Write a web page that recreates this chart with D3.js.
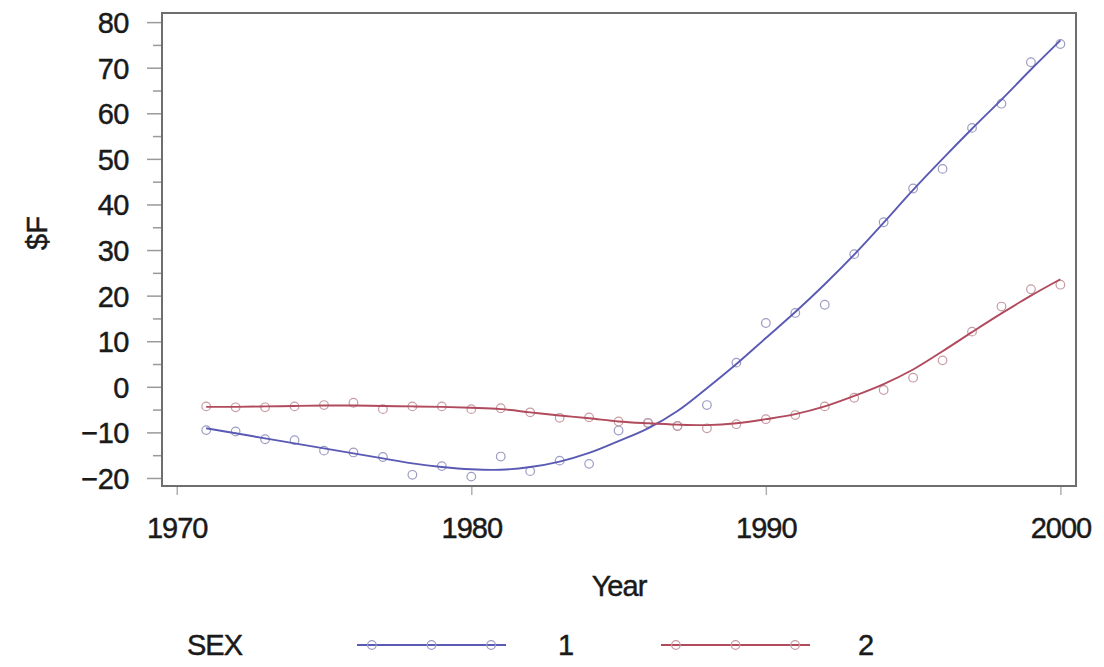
<!DOCTYPE html>
<html>
<head>
<meta charset="utf-8">
<script src="https://cdn.jsdelivr.net/npm/d3@7"></script>
<style>
  html, body { margin: 0; padding: 0; background: #fff; }
  svg { display: block; }
  text { font-family: "Liberation Sans", Arial, Helvetica, sans-serif; fill: #1a1a1a; stroke: #1a1a1a; stroke-width: 0.45px; }
</style>
</head>
<body>
<svg id="chart" width="1104" height="667"></svg>
<script>
// ---- data ----
const years = d3.range(1971, 2001);
const sexCodes = ["1", "2"];
const obs1 = [-9.5, -9.8, -11.5, -11.7, -14.0, -14.4, -15.4, -19.3, -17.4, -19.7,
              -15.3, -18.5, -16.2, -16.9, -9.6, -7.9, -8.6, -4.0, 5.3, 14.0,
              16.2, 18.0, 29.1, 36.1, 43.5, 47.8, 56.8, 62.1, 71.2, 75.2];
const obs2 = [-4.3, -4.5, -4.5, -4.3, -4.0, -3.5, -4.9, -4.3, -4.3, -4.9,
              -4.7, -5.6, -6.8, -6.7, -7.6, -8.0, -8.6, -9.1, -8.2, -7.1,
              -6.2, -4.3, -2.4, -0.7, 2.0, 5.8, 12.1, 17.6, 21.4, 22.4];
const fit1 = [-9.1, -10.2, -11.3, -12.4, -13.5, -14.6, -15.7, -16.8, -17.6, -18.1,
              -18.2, -17.6, -16.4, -14.5, -11.9, -9.1, -5.3, -0.3, 5.0, 10.7,
              16.4, 22.5, 29.0, 36.0, 43.2, 50.0, 56.6, 63.0, 69.6, 76.0];
const fit2 = [-4.4, -4.4, -4.3, -4.2, -4.1, -4.1, -4.2, -4.3, -4.4, -4.6,
              -4.9, -5.6, -6.3, -6.9, -7.6, -8.0, -8.3, -8.4, -8.0, -7.1,
              -6.0, -4.3, -2.0, 0.6, 3.8, 7.8, 12.0, 16.1, 20.0, 23.6];
const xTicks = [1970, 1980, 1990, 2000];
const yTicks = [-20, -10, 0, 10, 20, 30, 40, 50, 60, 70, 80];
const yMinorTicks = [-15, -5, 5, 15, 25, 35, 45, 55, 65, 75];
const xLabel = "Year";
const yLabel = "$F";
const legendTitle = "SEX";

// ---- layout ----
const svg = d3.select("#chart");
const L = 162, R = 1076, T = 13, B = 486;
const x = d3.scaleLinear().domain([1969.5, 2000.53]).range([L, R]);
const y = d3.scaleLinear().domain([-21.76, 82.0]).range([B, T]);

const lineCol = { "1": "#5a5ab4", "2": "#b04a5c" };
const markCol = { "1": "#9c9cc4", "2": "#c79ca2" };

const series = [
  { key: "1", obs: obs1, fit: fit1 },
  { key: "2", obs: obs2, fit: fit2 }
];

const fmt = d => (d < 0 ? "\u2212" + Math.abs(d) : String(d));

// y axis
const yAxis = d3.axisLeft(y).tickValues(yTicks).tickSize(14).tickPadding(18).tickFormat(fmt);
const gy = svg.append("g").attr("transform", `translate(${L - 1},0)`).call(yAxis);
gy.select(".domain").remove();
gy.selectAll(".tick line").attr("stroke", "#9a9a9a").attr("stroke-width", 1.5);
gy.selectAll(".tick text").style("font-size", "29px").attr("fill", "#1a1a1a").attr("dy", "0.36em").attr("letter-spacing", "-0.5px");
const yAxisMinor = d3.axisLeft(y).tickValues(yMinorTicks).tickSize(8).tickFormat("");
const gym = svg.append("g").attr("transform", `translate(${L - 1},0)`).call(yAxisMinor);
gym.select(".domain").remove();
gym.selectAll(".tick line").attr("stroke", "#9a9a9a").attr("stroke-width", 1.5);

// x axis
const xAxis = d3.axisBottom(x).tickValues(xTicks).tickSize(8).tickPadding(22).tickFormat(d3.format("d"));
const gx = svg.append("g").attr("transform", `translate(0,${B + 1})`).call(xAxis);
gx.select(".domain").remove();
gx.selectAll(".tick line").attr("stroke", "#b0b0b0").attr("stroke-width", 1.5);
gx.selectAll(".tick text").style("font-size", "29px").attr("fill", "#1a1a1a").attr("dy", "0.72em").attr("letter-spacing", "-1px");

// frame
svg.append("rect").attr("x", L).attr("y", T).attr("width", R - L).attr("height", B - T)
  .attr("fill", "none").attr("stroke", "#6e6e6e").attr("stroke-width", 2);

// axis labels
svg.append("text").attr("x", (L + R) / 2).attr("y", 596).attr("text-anchor", "middle")
  .style("font-size", "29px").attr("letter-spacing", "-1px").text(xLabel);
svg.append("text").attr("transform", "translate(47,233) rotate(-90)").attr("text-anchor", "middle")
  .style("font-size", "29px").text(yLabel);

// lines and markers
const plot = svg.append("g");
const line = d3.line().x((d, i) => x(years[i])).y(d => y(d)).curve(d3.curveCatmullRom.alpha(0.5));
series.forEach(s => {
  plot.append("g").selectAll("circle").data(s.obs).join("circle")
    .attr("cx", (d, i) => x(years[i])).attr("cy", d => y(d)).attr("r", 4.3)
    .attr("fill", "none").attr("stroke", markCol[s.key]).attr("stroke-width", 1.2);
});
series.forEach(s => {
  plot.append("path").datum(s.fit).attr("d", line)
    .attr("fill", "none").attr("stroke", lineCol[s.key]).attr("stroke-width", 1.9);
});

// legend
const ly = 645;
svg.append("text").attr("x", 187).attr("y", ly).attr("dy", "0.36em")
  .style("font-size", "29px").attr("letter-spacing", "-1px").text(legendTitle);
const legendItems = [
  { key: sexCodes[0], x0: 357, x1: 506, tx: 566 },
  { key: sexCodes[1], x0: 661, x1: 810, tx: 866 }
];
legendItems.forEach(it => {
  const g = svg.append("g");
  g.append("line").attr("x1", it.x0).attr("x2", it.x1).attr("y1", ly).attr("y2", ly)
    .attr("stroke", lineCol[it.key]).attr("stroke-width", 1.9);
  const w = it.x1 - it.x0;
  [0.1, 0.5, 0.9].forEach(f => {
    g.append("circle").attr("cx", it.x0 + w * f).attr("cy", ly).attr("r", 4.3)
      .attr("fill", "none").attr("stroke", markCol[it.key]).attr("stroke-width", 1.2);
  });
  g.append("text").attr("x", it.tx).attr("y", ly).attr("dy", "0.36em").attr("text-anchor", "middle")
    .style("font-size", "29px").text(it.key);
});
</script>
</body>
</html>
